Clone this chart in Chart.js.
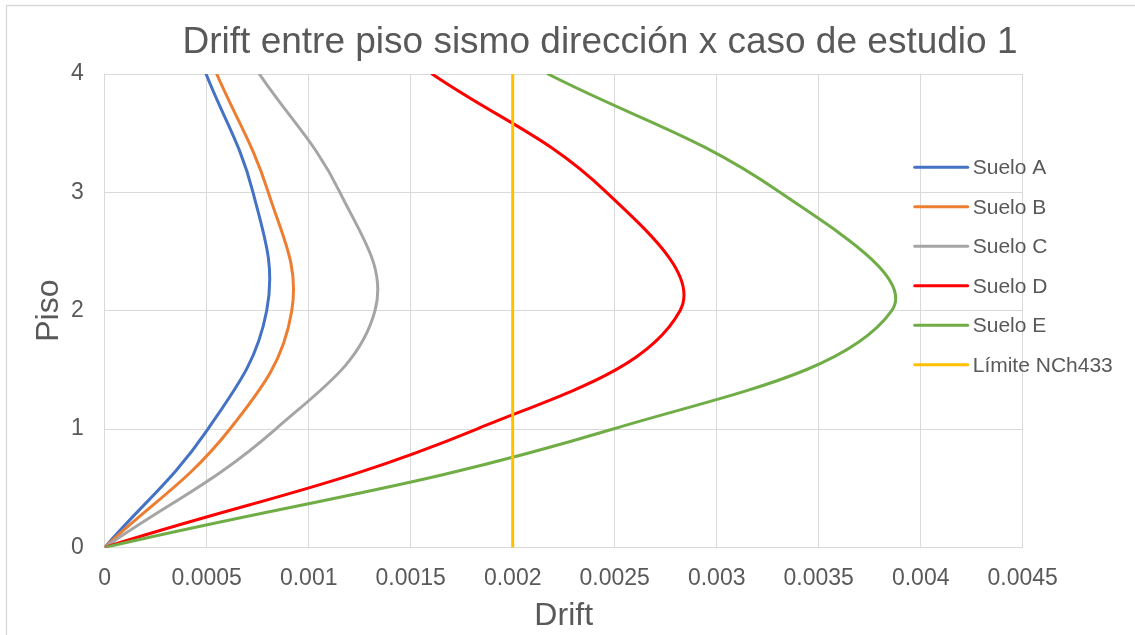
<!DOCTYPE html>
<html>
<head>
<meta charset="utf-8">
<script src="https://cdn.jsdelivr.net/npm/chart.js@4.4.1/dist/chart.umd.min.js"></script>
<style>
  html, body { margin: 0; padding: 0; background: #ffffff; }
  #wrap { position: relative; width: 1135px; height: 635px; }
</style>
</head>
<body>
<div id="wrap"><canvas id="c" width="1135" height="635"></canvas></div>
<script>
const chartTitle = 'Drift entre piso sismo dirección x caso de estudio 1';
const xAxisTitle = 'Drift';
const yAxisTitle = 'Piso';

const floors = [0, 1, 2, 3, 4];
const sueloA = [0, 0.000506, 0.000794, 0.000727, 0.000497];
const sueloB = [0, 0.000614, 0.000917, 0.000802, 0.000549];
const sueloC = [0, 0.000838, 0.001325, 0.001153, 0.000758];
const sueloD = [0, 0.001824, 0.002820, 0.002460, 0.001605];
const sueloE = [0, 0.002492, 0.003858, 0.003310, 0.002173];
const limiteFloors = [0, 4];
const limiteNCh433 = [0.002, 0.002];

const seriesNames = ['Suelo A', 'Suelo B', 'Suelo C', 'Suelo D', 'Suelo E', 'Límite NCh433'];
const seriesColors = ['#4472C4', '#ED7D31', '#A5A5A5', '#FF0000', '#70AD47', '#FFC000'];

const xTickValues = [0, 0.0005, 0.001, 0.0015, 0.002, 0.0025, 0.003, 0.0035, 0.004, 0.0045];
const xTickLabels = ['0', '0.0005', '0.001', '0.0015', '0.002', '0.0025', '0.003', '0.0035', '0.004', '0.0045'];
const yTickValues = [0, 1, 2, 3, 4];
const yTickLabels = ['0', '1', '2', '3', '4'];

const FONT = '"Liberation Sans", Arial, sans-serif';
const TEXT = '#595959';
const GRID = '#D9D9D9';

function pts(xs, ys) { return xs.map((x, i) => ({ x: x, y: ys[i] })); }

const seriesData = [
  pts(sueloA, floors), pts(sueloB, floors), pts(sueloC, floors),
  pts(sueloD, floors), pts(sueloE, floors), pts(limiteNCh433, limiteFloors)
];

const datasets = seriesData.map((d, i) => ({
  label: seriesNames[i],
  data: d,
  borderColor: seriesColors[i],
  backgroundColor: seriesColors[i],
  borderWidth: 3,
  pointRadius: 0,
  pointHoverRadius: 0,
  showLine: true,
  tension: i < 5 ? 0.4 : 0,
  borderCapStyle: 'round',
  borderJoinStyle: 'round',
  fill: false,
  order: seriesNames.length - i
}));

const decorPlugin = {
  id: 'decor',
  beforeDraw(chart) {
    const ctx = chart.ctx;
    ctx.save();
    ctx.fillStyle = '#ffffff';
    ctx.fillRect(0, 0, chart.width, chart.height);
    ctx.strokeStyle = GRID;
    ctx.lineWidth = 1.3;
    ctx.beginPath();
    ctx.moveTo(6.5, chart.height + 2);
    ctx.lineTo(6.5, 5.5);
    ctx.lineTo(chart.width + 2, 5.5);
    ctx.stroke();
    ctx.restore();
  },
  afterDraw(chart) {
    const ctx = chart.ctx;
    const area = chart.chartArea;
    ctx.save();
    // title
    ctx.fillStyle = TEXT;
    ctx.font = '37px ' + FONT;
    ctx.textAlign = 'center';
    ctx.textBaseline = 'middle';
    ctx.fillText(chartTitle, 600, 43);
    // legend
    ctx.font = '21px ' + FONT;
    ctx.textAlign = 'left';
    const lx = area.right - 108;
    const ly0 = 167.3;
    const step = 39.5;
    chart.data.datasets.forEach((ds, i) => {
      const y = ly0 + i * step;
      ctx.strokeStyle = ds.borderColor;
      ctx.lineWidth = 3;
      ctx.lineCap = 'round';
      ctx.beginPath();
      ctx.moveTo(lx, y);
      ctx.lineTo(lx + 53, y);
      ctx.stroke();
      ctx.fillStyle = TEXT;
      ctx.fillText(ds.label, lx + 58, y + 1);
    });
    ctx.restore();
  }
};

new Chart(document.getElementById('c'), {
  type: 'scatter',
  data: { datasets: datasets },
  options: {
    responsive: false,
    animation: false,
    devicePixelRatio: 1,
    layout: { padding: { top: 74, right: 112.3, left: 0, bottom: 0 } },
    plugins: {
      legend: { display: false },
      title: { display: false },
      tooltip: { enabled: false }
    },
    scales: {
      x: {
        type: 'linear',
        min: 0,
        max: 0.0045,
        afterFit(scale) { scale.height = 87.6; },
        afterBuildTicks(scale) { scale.ticks = xTickValues.map(v => ({ value: v })); },
        grid: { color: GRID, lineWidth: 1, drawTicks: false },
        border: { color: GRID, width: 1 },
        ticks: {
          color: TEXT,
          font: { family: FONT, size: 23 },
          padding: 17,
          maxRotation: 0,
          autoSkip: false,
          callback: (v, i) => xTickLabels[i]
        },
        title: {
          display: true,
          text: xAxisTitle,
          color: TEXT,
          font: { family: FONT, size: 32 },
          padding: { top: 0, bottom: 0 }
        }
      },
      y: {
        type: 'linear',
        min: 0,
        max: 4,
        afterFit(scale) { scale.width = 104.7; },
        afterBuildTicks(scale) { scale.ticks = yTickValues.map(v => ({ value: v })); },
        grid: { color: GRID, lineWidth: 1, drawTicks: false },
        border: { color: GRID, width: 1 },
        ticks: {
          color: TEXT,
          font: { family: FONT, size: 23 },
          padding: 21,
          autoSkip: false,
          callback: (v, i) => yTickLabels[i]
        },
        title: {
          display: true,
          text: yAxisTitle,
          color: TEXT,
          font: { family: FONT, size: 32 },
          padding: { top: 30, bottom: 0 }
        }
      }
    }
  },
  plugins: [decorPlugin]
});
</script>
</body>
</html>
